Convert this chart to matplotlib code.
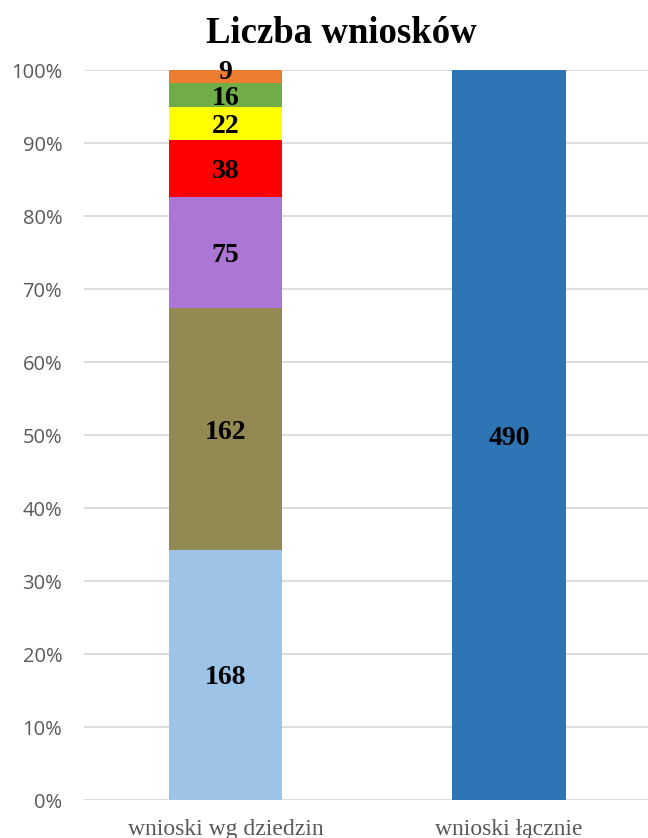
import matplotlib
matplotlib.use("Agg")
import matplotlib.pyplot as plt
import numpy as np

categories = ["wnioski wg dziedzin", "wnioski łącznie"]
segments = [168, 162, 75, 38, 22, 16, 9]
segment_colors = ["#9DC3E6", "#938953", "#AD76D6", "#FF0000", "#FFFF00", "#70AD47", "#ED7D31"]
total = [490]
total_color = "#2E75B6"
title = "Liczba wniosków"
yticks = [0, 10, 20, 30, 40, 50, 60, 70, 80, 90, 100]

W, H = 648, 838
fig = plt.figure(figsize=(W / 100, H / 100), dpi=100)
ax = fig.add_axes([83.75 / W, 38 / H, 567 / W, 730 / H])

serif = "Liberation Serif"
bw = 0.4
seg_total = sum(segments)
bottom = 0.0
for i, (v, c) in enumerate(zip(segments, segment_colors)):
    h = v / seg_total * 100
    ax.bar(0, h, bottom=bottom, width=bw, color=c, zorder=2)
    yc = bottom + h / 2
    if i == len(segments) - 1:
        yc = bottom + h / 2 + 1.0
    ax.text(0, yc, str(v), ha="center", va="center_baseline", fontsize=20,
            fontweight="bold", family=serif, color="black", zorder=3)
    bottom += h

ax.bar(1, 100, width=bw, color=total_color, zorder=2)
ax.text(1, 50, str(total[0]), ha="center", va="center_baseline", fontsize=20,
        fontweight="bold", family=serif, color="black", zorder=3)

ax.set_xlim(-0.5, 1.5)
ax.set_ylim(0, 100)
ax.set_yticks(yticks)
ax.set_yticklabels([f"{t}%" for t in yticks], family="Open Sans", fontsize=14.5, color="#595959")
ax.set_xticks([0, 1])
ax.set_xticklabels(categories, family=serif, fontsize=17, color="#595959")
ax.tick_params(axis="y", length=0, pad=15.5)
ax.tick_params(axis="x", length=0, pad=14)
ax.grid(axis="y", color="#D9D9D9", linewidth=1.3, zorder=0)
ax.set_axisbelow(True)
for s in ax.spines.values():
    s.set_visible(False)

fig.text(341 / W, 1 - 43 / H, title, ha="center", va="baseline", fontsize=26.5,
         fontweight="bold", family=serif)

fig.savefig("out.png", dpi=100)
